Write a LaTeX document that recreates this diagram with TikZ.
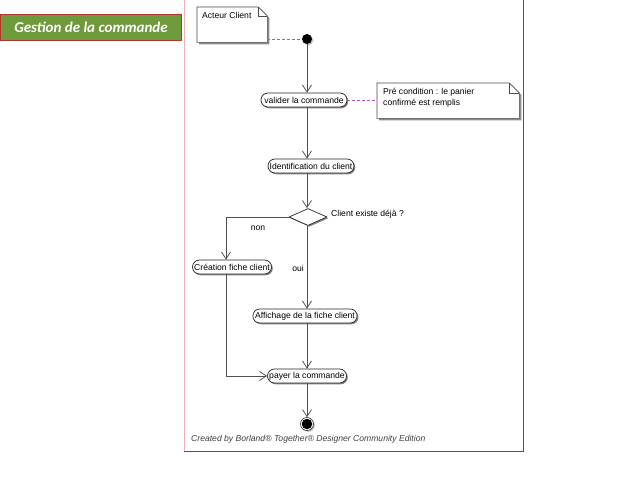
\documentclass[tikz,border=0pt]{standalone}
\usepackage{fontspec}
\setmainfont{Liberation Sans}
\newfontfamily\titlefont{Carlito}
\usetikzlibrary{arrows.meta,shapes.geometric,shapes.misc,shadows,calc}
\definecolor{titlegreen}{HTML}{6F9A3B}
\definecolor{titlered}{HTML}{B0382A}
\definecolor{framered}{HTML}{C8202E}
\definecolor{linegray}{HTML}{505050}
\definecolor{notepink}{HTML}{C050C0}
\tikzset{
  diag/.style={font=\fontsize{8.6}{9.8}\selectfont},
  act/.style={rounded rectangle, draw=black!85, line width=0.7pt, fill=white, diag,
    inner xsep=1pt, inner ysep=0pt, minimum height=14pt,
    drop shadow={shadow xshift=1.3pt, shadow yshift=-1.3pt, fill=black!60, opacity=0.8}},
  flow/.style={draw=linegray, line width=0.75pt, -{Straight Barb[length=7pt,width=9pt,line width=0.75pt]}},
  notelink/.style={draw=notepink, line width=0.7pt, dash pattern=on 3pt off 2pt},
  notebox/.style={draw=none, rectangle, inner sep=0pt},
  noteline/.style={draw=black!70, line width=0.6pt, fill=white},
}
\begin{document}
\begin{tikzpicture}[x=1pt,y=-1pt]
\useasboundingbox (0,0) rectangle (638,479);
\fill[white] (0,0) rectangle (638,479);

% title
\node[fill=titlegreen, draw=titlered, line width=1pt, minimum width=181pt, minimum height=26pt,
  anchor=north west, inner sep=0pt, text=white,
  font=\titlefont\bfseries\itshape\fontsize{15}{17}\selectfont] (title) at (0,14) {Gestion de la commande};

% frame
\draw[framered!35, line width=0.8pt] (184,0) -- (184,451);
\draw[framered, line width=1pt] (523,0) -- (523,451) -- (184,451);

% note: Acteur Client
\node[notebox, minimum width=70pt, minimum height=35pt, anchor=north west] (actnote) at (197,7) {};
\fill[black!45] ([shift={(2pt,-2pt)}]actnote.north west) -- ([shift={(-7pt,-2pt)}]actnote.north east)
  -- ([shift={(2pt,-11pt)}]actnote.north east)
  -- ([shift={(2pt,-2pt)}]actnote.south east) -- ([shift={(2pt,-2pt)}]actnote.south west) -- cycle;
\draw[noteline] (actnote.north west) -- ([xshift=-9pt]actnote.north east) -- ([yshift=-9pt]actnote.north east)
  -- (actnote.south east) -- (actnote.south west) -- cycle;
\draw[noteline, fill=none] ([xshift=-9pt]actnote.north east) -- ([xshift=-9pt,yshift=-9pt]actnote.north east) -- ([yshift=-9pt]actnote.north east);
\node[diag, anchor=north west, inner sep=0pt] (actnotetxt) at ([shift={(5pt,-5pt)}]actnote.north west) {Acteur Client};

% start
\node[circle, fill=black, minimum size=10pt, inner sep=0pt,
  drop shadow={shadow xshift=1.3pt, shadow yshift=-1.3pt, fill=black!50}] (start) at (307,39) {};
\draw[notelink] (actnote.east |- start) -- (start.west);

% activities
\node[act, minimum width=88pt] (valider) at (304,100) {valider la commande};
\node[act, minimum width=88pt] (ident) at (311,166) {Identification du client};
\node[diamond, draw=black!85, line width=0.7pt, fill=white, minimum width=38pt, minimum height=17pt, inner sep=0pt,
  drop shadow={shadow xshift=1.3pt, shadow yshift=-1.3pt, fill=black!60, opacity=0.8}] (dec) at (308,217) {};
\node[act, minimum width=81pt] (creation) at (232,267) {Création fiche client};
\node[act, minimum width=104pt] (affichage) at (305,316) {Affichage de la fiche client};
\node[act, minimum width=81pt] (payer) at (307,376) {payer la commande};

% end
\node[circle, draw=black!80, line width=0.6pt, fill=white, minimum size=13pt, inner sep=0pt,
  drop shadow={shadow xshift=1.3pt, shadow yshift=-1.3pt, fill=black!50}] (end) at (307,424) {};
\node[circle, fill=black, minimum size=10.5pt, inner sep=0pt] (endin) at (end.center) {};

% note: precondition
\node[notebox, minimum width=142pt, minimum height=35pt, anchor=north west] (prenote) at (377,83) {};
\fill[black!45] ([shift={(2pt,-2pt)}]prenote.north west) -- ([shift={(-8pt,-2pt)}]prenote.north east)
  -- ([shift={(2pt,-12pt)}]prenote.north east)
  -- ([shift={(2pt,-2pt)}]prenote.south east) -- ([shift={(2pt,-2pt)}]prenote.south west) -- cycle;
\draw[noteline] (prenote.north west) -- ([xshift=-10pt]prenote.north east) -- ([yshift=-10pt]prenote.north east)
  -- (prenote.south east) -- (prenote.south west) -- cycle;
\draw[noteline, fill=none] ([xshift=-10pt]prenote.north east) -- ([xshift=-10pt,yshift=-10pt]prenote.north east) -- ([yshift=-10pt]prenote.north east);
\node[diag, anchor=north west, inner sep=0pt, align=left] (prenotetxt) at ([shift={(6pt,-5pt)}]prenote.north west)
  {Pré condition : le panier\\[1pt]confirmé est remplis};
\draw[notelink] (valider.east) -- (prenote.west |- valider.east);

% connectors
\coordinate (nonturn) at (226,217);
\draw[flow] (start.south) -- (start |- valider.north);
\draw[flow] (start |- valider.south) -- (start |- ident.north);
\draw[flow] (start |- ident.south) -- (start |- dec.north);
\draw[flow] (dec.west) -- (nonturn) -- (nonturn |- creation.north);
\draw[flow] (start |- dec.south) -- (start |- affichage.north);
\draw[flow] (start |- affichage.south) -- (start |- payer.north);
\draw[flow] (nonturn |- creation.south) |- (payer.west);
\draw[flow] (payer.south) -- (end.north);

% labels
\node[diag, anchor=west, inner sep=0pt] (declabel) at (331,214) {Client existe déjà ?};
\node[diag, inner sep=0pt] (nonlabel) at (258,228) {non};
\node[diag, inner sep=0pt] (ouilabel) at (298,268) {oui};

% footer
\node[anchor=west, inner sep=0pt, text=black!75, font=\itshape\fontsize{8.6}{10}\selectfont] (footer) at (191,439)
  {Created by Borland® Together® Designer Community Edition};
\end{tikzpicture}
\end{document}
